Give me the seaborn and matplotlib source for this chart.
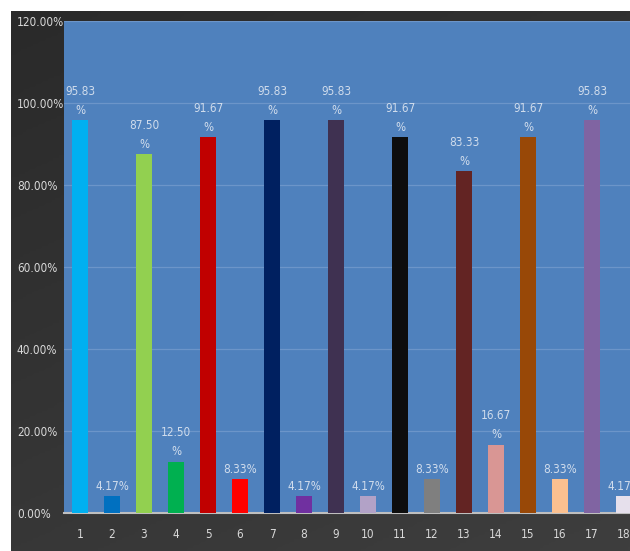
import numpy as np
import pandas as pd
import matplotlib
matplotlib.use("Agg")
import matplotlib.pyplot as plt
import seaborn as sns

# dados do gráfico
categorias = [str(i) for i in range(1, 19)]
valores = [95.83, 4.17, 87.50, 12.50, 91.67, 8.33, 95.83, 4.17, 95.83,
           4.17, 91.67, 8.33, 83.33, 16.67, 91.67, 8.33, 95.83, 4.17]
cores = ['#00B0F0', '#0070C0', '#92D050', '#00B050', '#C00000', '#FF0000',
         '#002060', '#7030A0', '#3F3151', '#B2A2C7', '#0D0D0D', '#7F7F7F',
         '#632423', '#D99694', '#984807', '#FAC090', '#8064A2', '#E6E0EC']
y_ticks = [0, 20, 40, 60, 80, 100, 120]

df = pd.DataFrame({'cat': categorias, 'valor': valores})

sns.set_theme(style="white")
plt.rcParams['font.family'] = ['DejaVu Sans']
plt.rcParams['font.stretch'] = 'condensed'

W, H = 630, 551
fig = plt.figure(figsize=(W / 100, H / 100), dpi=100, facecolor='white')

# fundo escuro com gradiente suave
bg = fig.add_axes([11 / W, 0, 1 - 11 / W, 1 - 11 / H])
yy, xx = np.mgrid[0:1:200j, 0:1:200j]
grad = 0.35 * xx + 0.65 * yy
bg.imshow(grad, cmap=sns.blend_palette(['#2a2a2a', '#3e3e3e'], as_cmap=True),
          aspect='auto', extent=[0, 1, 0, 1], origin='upper')
bg.set_axis_off()

# área do gráfico (estende além da borda direita, como no original)
left, bottom = 64 / W, (H - 513) / H
ax = fig.add_axes([left, bottom, 576 / W, (513 - 21) / H])
ax.set_facecolor('#4F81BD')

sns.barplot(data=df, x='cat', y='valor', hue='cat', palette=cores,
            legend=False, width=0.5, saturation=1, linewidth=0,
            ax=ax, zorder=3)

ax.set_ylim(0, 120)
ax.set_xlim(-0.5, 17.5)
ax.set_yticks(y_ticks)
ax.set_yticklabels([f'{t:.2f}%' for t in y_ticks])
ax.grid(axis='y', color='#6C95C9', linewidth=0.9, zorder=0)
ax.set_axisbelow(True)
ax.set_xlabel('')
ax.set_ylabel('')

for s in ['top', 'right', 'left']:
    ax.spines[s].set_visible(False)
ax.spines['bottom'].set_color('#BFBFBF')
ax.spines['bottom'].set_linewidth(1.5)

ax.tick_params(axis='y', length=0, pad=34, labelsize=8.5, labelcolor='#D9D9D9')
ax.tick_params(axis='x', length=0, pad=11, labelsize=8.5, labelcolor='#D9D9D9')
for lb in ax.get_yticklabels():
    lb.set_horizontalalignment('left')

# rótulos de valor
for i, v in enumerate(valores):
    if v >= 10:
        txt = f'{v:.2f}\n%'
    else:
        txt = f'{v:.2f}%'
    ax.text(i, v + 0.8, txt, ha='center', va='bottom', fontsize=8.5,
            color='#D0DCEC', linespacing=1.6, zorder=4)

fig.savefig('out.png', dpi=100, facecolor='white')
